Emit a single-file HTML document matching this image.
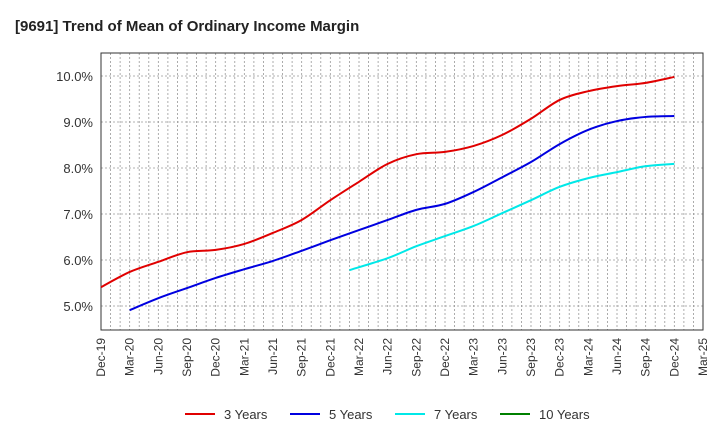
<!DOCTYPE html>
<html><head><meta charset="utf-8"><style>
body{margin:0;background:#fff;font-family:"Liberation Sans",sans-serif}
</style></head><body>
<svg id="c" width="720" height="440" xmlns="http://www.w3.org/2000/svg">
<text x="15" y="31" font-size="15" font-weight="bold" fill="#222">[9691]  Trend of Mean of Ordinary Income Margin</text>
<g id="grid"></g><g id="axes"></g><g id="series"></g><g id="legend"></g>
</svg>
<script>
const xLabels=["Dec-19","Mar-20","Jun-20","Sep-20","Dec-20","Mar-21","Jun-21","Sep-21","Dec-21","Mar-22","Jun-22","Sep-22","Dec-22","Mar-23","Jun-23","Sep-23","Dec-23","Mar-24","Jun-24","Sep-24","Dec-24","Mar-25"];
const yTicks=[5,6,7,8,9,10];
const seriesNames=["3 Years","5 Years","7 Years","10 Years"];
const seriesColors=["#e00000","#0000e0","#00e8e8","#008000"];
// month index from Dec-19
const months3=[0,3,6,9,12,15,18,21,24,27,30,33,36,39,42,45,48,51,54,57,60];
const vals3=[5.41,5.74,5.96,6.17,6.22,6.35,6.59,6.87,7.30,7.70,8.09,8.30,8.35,8.48,8.72,9.07,9.48,9.67,9.78,9.85,9.98];
const months5=[3,6,9,12,15,18,21,24,27,30,33,36,39,42,45,48,51,54,57,60];
const vals5=[4.91,5.17,5.39,5.61,5.80,5.98,6.20,6.43,6.65,6.87,7.09,7.22,7.48,7.80,8.13,8.52,8.83,9.02,9.11,9.13];
const months7=[26,30,33,36,39,42,45,48,51,54,57,60];
const vals7=[5.78,6.04,6.30,6.52,6.74,7.02,7.30,7.59,7.78,7.91,8.04,8.09];
const months10=[];const vals10=[];
const L=101,R=703,T=53,B=330,NM=63;
const X=m=>L+(R-L)*m/NM;
const Y=v=>76+(10-v)*46;
const ns="http://www.w3.org/2000/svg";
function mk(tag,attrs,parent,txt){const e=document.createElementNS(ns,tag);for(const k in attrs)e.setAttribute(k,attrs[k]);if(txt!=null)e.textContent=txt;document.getElementById(parent).appendChild(e);return e;}
for(let m=1;m<NM;m++){const l=mk("line",{x1:X(m),x2:X(m),y1:T,y2:B,stroke:"#999","stroke-width":0.8,"stroke-dasharray":"2,2"},"grid");

}
yTicks.forEach(v=>{const l=mk("line",{x1:L,x2:R,y1:Y(v),y2:Y(v),stroke:"#999","stroke-width":0.8,"stroke-dasharray":"2,2"},"grid");


const t=mk("text",{x:L-8,y:Y(v)+5,"text-anchor":"end","font-size":13,fill:"#333"},"axes",v.toFixed(1)+"%");

});
const fr=mk("rect",{x:L,y:T,width:R-L,height:B-T,fill:"none",stroke:"#333","stroke-width":1},"axes");


xLabels.forEach((s,i)=>{const x=X(i*3);const t=mk("text",{transform:`translate(${x+4},${B+8}) rotate(-90)`,"text-anchor":"end","font-size":12,fill:"#333"},"axes",s);

});
function path(ms,vs){if(!ms.length)return"";const p=ms.map((m,i)=>[X(m),Y(vs[i])]);let d=`M${p[0][0]},${p[0][1]}`;
for(let i=0;i<p.length-1;i++){const p0=p[i-1]||p[i],p1=p[i],p2=p[i+1],p3=p[i+2]||p2;
d+=` C${p1[0]+(p2[0]-p0[0])/6},${p1[1]+(p2[1]-p0[1])/6} ${p2[0]-(p3[0]-p1[0])/6},${p2[1]-(p3[1]-p1[1])/6} ${p2[0]},${p2[1]}`;}return d;}
const data=[[months3,vals3],[months5,vals5],[months7,vals7],[months10,vals10]];
data.forEach((s,i)=>{const p=mk("path",{d:path(s[0],s[1]),fill:"none",stroke:seriesColors[i],"stroke-width":2},"series");

});
const lx=[185,290,395,500];
seriesNames.forEach((n,i)=>{const g=mk("g",{},"legend");


const l=document.createElementNS(ns,"line");l.setAttribute("x1",lx[i]);l.setAttribute("x2",lx[i]+30);l.setAttribute("y1",414);l.setAttribute("y2",414);l.setAttribute("stroke",seriesColors[i]);l.setAttribute("stroke-width",2);g.appendChild(l);
const t=document.createElementNS(ns,"text");t.setAttribute("x",lx[i]+39);t.setAttribute("y",419);t.setAttribute("font-size",13);t.setAttribute("fill","#333");t.textContent=n;g.appendChild(t);});
</script>
</body></html>
